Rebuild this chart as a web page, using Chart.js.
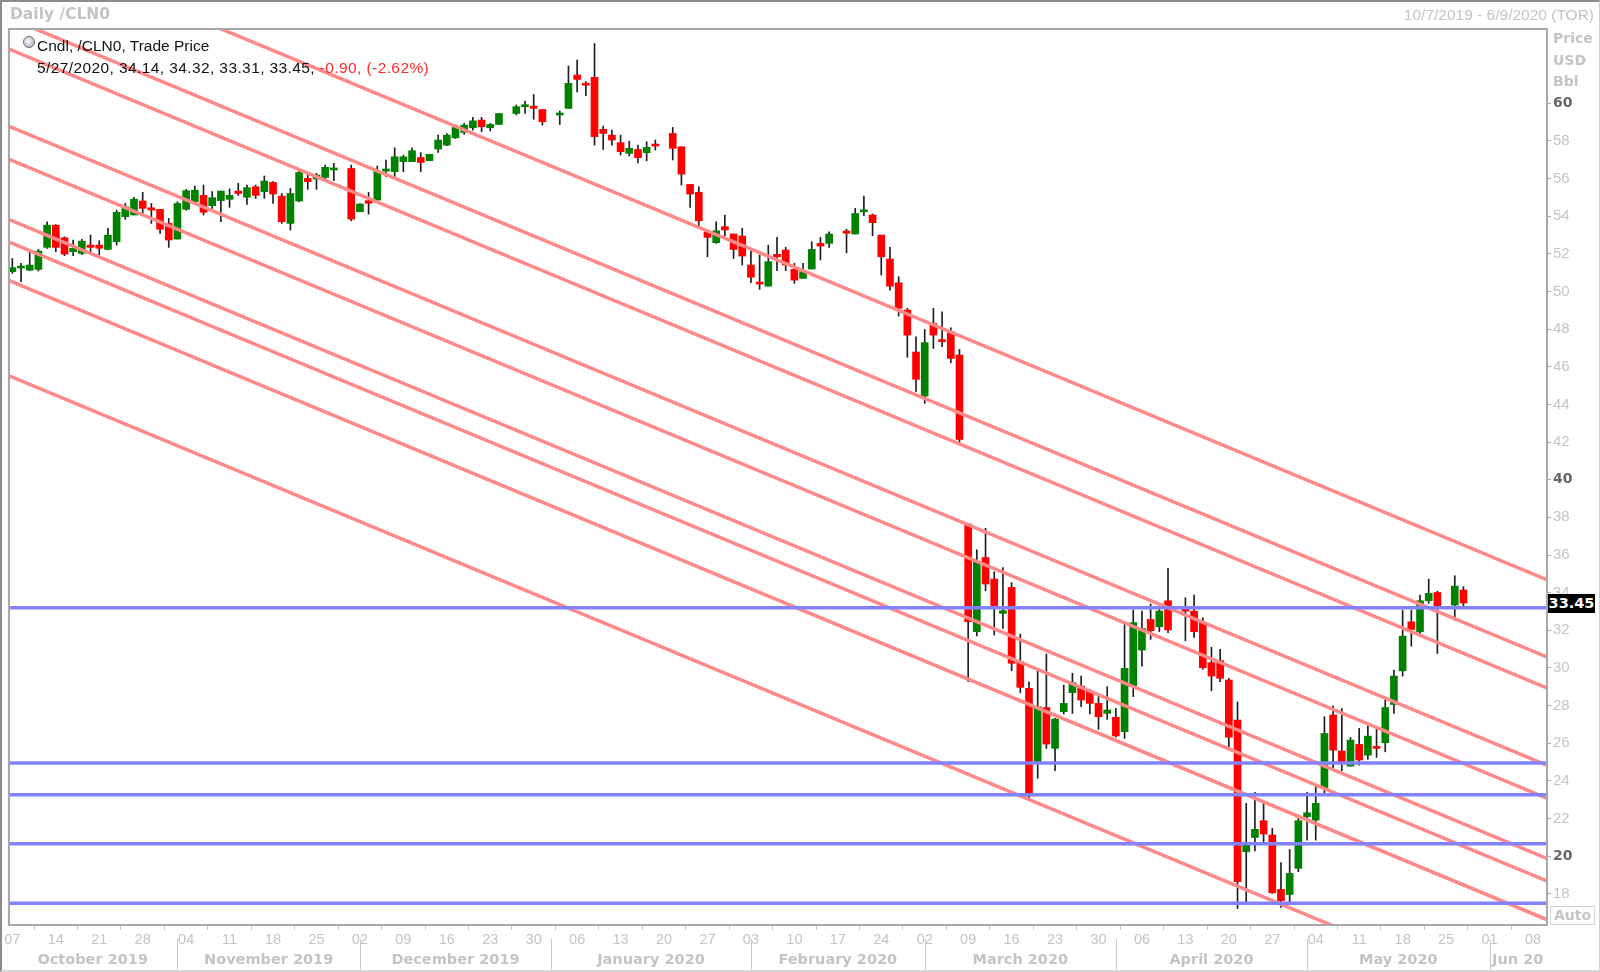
<!DOCTYPE html>
<html>
<head>
<meta charset="utf-8">
<script src="https://cdn.jsdelivr.net/npm/chart.js@4.4.1/dist/chart.umd.min.js"></script>
<style>
html,body{margin:0;padding:0;background:#fff;}
#wrap{position:relative;width:1600px;height:972px;overflow:hidden;background:#fff;}
#c{position:absolute;left:0;top:0;}
.t{position:absolute;white-space:nowrap;line-height:1;}
.lt{color:#c4c4c4;}
.b{font-family:"DejaVu Sans",sans-serif;font-weight:bold;}
.n{font-family:"Liberation Sans",Arial,sans-serif;}
#frame{position:absolute;left:8px;top:28px;width:1540px;height:898px;box-sizing:border-box;border:2px solid #a8a8a8;pointer-events:none;}
#outer{position:absolute;left:0;top:0;width:1600px;height:972px;box-sizing:border-box;border-top:2px solid #8c8c8c;border-left:2px solid #8c8c8c;border-right:1px solid #d0d0d0;border-bottom:2px solid #d8d8d8;pointer-events:none;}
.sep{position:absolute;width:1px;background:#c8c8c8;top:939px;height:31px;}
#lastbox{position:absolute;left:1548px;width:47px;height:19px;background:#000;color:#fff;font-family:"DejaVu Sans",sans-serif;font-weight:bold;font-size:14.5px;line-height:19px;text-align:center;}
#auto{position:absolute;left:1550px;top:906px;width:45px;height:19px;box-sizing:border-box;border:1px solid #d4d4d4;color:#c4c4c4;font-family:"DejaVu Sans",sans-serif;font-weight:bold;font-size:14px;line-height:17px;text-align:center;}
#clock{position:absolute;left:23px;top:36px;width:10px;height:10px;border-radius:50%;border:1px solid #6a6a7a;background:radial-gradient(circle at 40% 40%,#ffffff,#9a9aa8);}
</style>
</head>
<body>
<div id="wrap">
<canvas id="c" width="1600" height="972"></canvas>
<div class="t b lt" style="left:10px;top:7px;font-size:15.5px;">Daily /CLN0</div>
<div class="t n lt" style="right:6px;top:7px;font-size:15.5px;">10/7/2019 - 6/9/2020 (TOR)</div>
<div id="clock"></div>
<div class="t n" style="left:37px;top:38px;font-size:15.5px;color:#111;">Cndl, /CLN0, Trade Price</div>
<div class="t n" id="legend2" style="left:37px;top:60px;font-size:15.5px;color:#111;letter-spacing:0.4px;"></div>
<div class="t b lt" style="left:1553px;top:31px;font-size:14px;">Price</div>
<div class="t b lt" style="left:1553px;top:53px;font-size:14px;">USD</div>
<div class="t b lt" style="left:1553px;top:74px;font-size:14px;">Bbl</div>
<div id="frame"></div>
<div id="lastbox"></div>
<div id="auto">Auto</div>
<div id="outer"></div>
</div>
<script>
// ---- Data (weekday index from Mon 7 Oct 2019; null = no session) ----
const opens = [51.05,51.24,51.13,51.17,52.34,53.52,52.85,52.11,52.02,52.46,
52.46,52.23,52.64,53.97,54.06,54.80,54.44,54.36,53.61,52.78,
54.36,54.76,55.10,54.55,54.82,54.89,55.33,55.00,55.56,55.30,
55.79,55.06,53.61,54.80,56.00,55.97,56.05,56.45,null,56.53,
54.23,54.82,54.85,56.39,56.36,56.89,56.89,57.11,56.94,57.56,
57.77,58.16,58.44,58.69,59.10,58.69,58.87,null,59.45,59.81,
59.84,59.66,null,59.37,59.72,61.49,60.98,61.37,58.61,58.30,
57.90,57.33,57.54,57.37,57.79,null,58.39,57.68,55.68,55.26,
53.17,52.59,53.44,53.05,52.94,51.40,50.46,50.28,51.97,52.20,
51.17,50.69,51.19,52.55,52.55,null,53.21,53.05,54.23,54.06,
52.99,51.72,50.46,49.01,46.78,44.44,48.30,47.42,47.86,46.62,
37.65,31.93,35.87,34.72,32.90,34.28,30.33,28.92,25.02,27.90,
25.73,27.68,28.69,29.04,28.78,28.12,27.59,27.38,26.62,29.04,
30.95,32.58,32.19,33.57,null,33.15,33.02,32.41,30.28,30.39,
29.36,27.23,20.24,21.00,21.89,21.13,18.24,17.97,19.36,22.10,
21.92,23.60,27.50,25.59,24.79,25.94,25.37,25.82,26.03,28.06,
29.85,32.45,31.92,33.57,34.01,null,33.34,34.14];
const highs = [51.75,51.49,52.11,52.23,53.70,53.55,52.90,52.73,52.76,52.99,
52.69,53.35,54.32,54.67,55.00,55.26,54.67,54.36,53.88,54.76,
55.42,55.60,55.65,55.30,55.33,55.44,55.74,55.65,55.65,56.13,
55.83,55.20,55.47,56.45,56.27,56.27,56.71,56.80,null,56.71,
54.67,55.26,56.66,56.98,57.63,57.24,57.63,57.37,57.28,58.30,
58.39,58.83,58.92,59.24,59.24,58.92,59.45,null,59.90,60.11,
60.46,59.66,null,59.58,61.97,62.29,61.14,63.17,58.78,58.57,
58.30,57.98,57.77,57.95,58.04,null,58.71,57.68,55.68,55.56,
53.26,53.70,54.06,53.05,53.35,52.16,51.93,52.46,52.87,52.34,
51.49,51.49,52.64,52.87,53.17,null,53.30,54.41,55.06,54.11,
52.99,52.34,50.78,49.10,47.59,47.98,49.10,48.92,48.07,46.92,
37.68,36.27,37.42,35.11,35.33,34.53,31.80,29.27,29.98,30.74,
27.32,29.10,29.72,29.57,28.87,28.51,29.01,27.86,32.46,33.08,
33.02,33.40,33.29,35.29,null,33.73,33.87,32.67,31.10,30.99,
29.45,28.20,22.81,23.39,22.86,21.48,19.66,20.36,22.10,23.39,
23.78,27.41,27.99,27.85,26.31,26.79,26.92,26.74,28.30,29.89,
33.07,33.07,33.87,34.72,34.08,null,34.90,34.32];
const lows = [50.96,50.52,51.10,51.08,52.29,52.11,51.90,51.90,51.95,51.98,
51.93,52.20,52.46,53.83,54.06,54.06,53.61,53.08,52.34,52.78,
54.32,54.76,54.06,54.41,53.70,54.46,55.10,54.62,54.94,54.94,
54.67,53.61,53.26,54.76,55.42,55.42,55.90,55.88,null,53.75,
54.23,54.11,54.85,56.09,56.09,56.36,56.89,56.36,56.94,57.38,
57.74,58.12,58.34,58.57,58.48,58.52,58.87,null,59.37,59.45,
59.14,58.83,null,58.87,59.72,60.60,60.39,57.77,57.54,57.77,
57.24,57.19,56.83,56.94,57.51,null,56.98,55.65,54.46,53.47,
51.84,52.55,52.94,51.75,51.40,50.46,50.11,50.28,51.10,51.10,
50.43,50.69,51.19,51.67,52.34,null,52.05,53.05,54.02,52.96,
50.87,50.07,48.69,46.50,44.67,44.05,46.97,47.06,46.21,41.97,
29.27,31.70,34.10,31.75,32.10,29.86,28.69,22.99,24.14,25.73,
24.55,27.56,27.59,27.94,27.56,26.74,27.27,26.32,26.26,28.48,
30.10,31.52,31.93,31.87,null,31.45,31.63,29.93,28.79,29.27,
25.79,17.23,17.59,20.29,20.77,18.03,17.28,17.53,19.18,20.86,
20.86,23.37,24.67,24.54,24.79,24.84,25.14,25.25,25.55,27.59,
29.57,31.16,31.80,33.43,30.77,null,32.54,33.31];
const closes = [51.26,51.35,51.40,52.14,53.52,52.34,51.98,52.29,52.67,52.34,
52.29,52.99,54.20,54.50,54.90,54.41,54.32,53.30,52.73,54.67,
55.35,55.38,54.20,54.98,55.33,55.10,55.20,55.51,55.10,55.86,
55.17,53.70,55.20,56.32,55.83,56.18,56.59,56.50,null,53.84,
54.64,54.68,56.39,56.50,57.15,57.15,57.47,56.85,57.28,58.04,
58.30,58.71,58.83,59.06,58.75,58.87,59.45,null,59.81,59.90,
59.72,59.01,null,59.45,61.05,61.26,60.95,58.22,58.39,58.04,
57.42,57.60,57.10,57.65,57.72,null,57.60,56.23,55.17,53.75,
52.87,53.22,53.26,52.23,51.88,50.75,50.39,51.58,51.84,51.40,
50.60,51.05,52.23,52.41,53.05,null,53.09,54.14,54.32,53.65,
51.84,50.28,49.10,47.68,45.33,47.28,47.68,47.33,46.44,42.14,
32.46,35.65,34.46,33.26,33.04,30.25,28.97,23.34,27.94,25.96,
27.29,28.12,29.22,28.30,28.12,27.41,27.77,26.39,29.98,32.41,
32.10,31.98,33.02,32.02,null,33.02,31.93,30.02,29.57,29.45,
26.32,18.65,20.60,21.43,21.18,18.06,17.64,19.09,21.89,22.31,
22.81,26.52,25.64,25.02,26.17,25.11,26.38,25.73,27.90,29.57,
31.69,32.05,33.57,33.96,33.29,null,34.35,33.45];

// Trend lines (price at weekday index -1 and 177)
const trendX = [-1, 177];
const trendLeft  = [68.74, 64.64, 62.99, 58.89, 57.14, 53.94, 52.74, 50.69, 45.64];
const trendRight = [34.61, 30.51, 28.86, 24.76, 23.01, 19.81, 18.61, 16.56, 11.51];
// Horizontal support / resistance levels
const levels = [33.20, 24.95, 23.27, 20.67, 17.50];
// Y ticks
const yTicks = [18,20,22,24,26,28,30,32,34,36,38,40,42,44,46,48,50,52,54,56,58,60];
const monthNames = ["October 2019","November 2019","December 2019","January 2020","February 2020","March 2020","April 2020","May 2020","Jun 20"];
const legendDate = "5/27/2020";
const legendChange = -0.90;
const legendPct = -2.62;

// ---- Categories: weekdays from 7 Oct 2019 to 9 Jun 2020 ----
const categories = [];
for (let t = Date.UTC(2019, 9, 7); categories.length < 177; t += 86400000) {
  const d = new Date(t); const wd = d.getUTCDay();
  if (wd !== 0 && wd !== 6) categories.push(d);
}
const mondayIdx = [];
categories.forEach((d, i) => { if (d.getUTCDay() === 1) mondayIdx.push(i); });
const monthStart = [];
categories.forEach((d, i) => { if (i > 0 && d.getUTCMonth() !== categories[i-1].getUTCMonth()) monthStart.push(i); });

const bodies = [], wicks = [], bodyColors = [];
for (let i = 0; i < opens.length; i++) {
  if (opens[i] == null) continue;
  bodies.push({x: i, y: [opens[i], closes[i]]});
  wicks.push({x: i, y: [lows[i], highs[i]]});
  bodyColors.push(closes[i] >= opens[i] ? '#008200' : '#ff0000');
}

const datasets = [
  {type:'bar', data: wicks, backgroundColor:'#1e1e1e', barThickness:1, grouped:false, order:3, borderWidth:0},
  {type:'bar', data: bodies, backgroundColor: bodyColors, barThickness:7, grouped:false, order:2, borderWidth:0, minBarLength:2}
];
trendLeft.forEach((v, k) => {
  datasets.push({type:'line', data:[{x:trendX[0], y:v},{x:trendX[1], y:trendRight[k]}],
    borderColor:'#ff8888', borderWidth:3.5, pointRadius:0, order:1, tension:0});
});
levels.forEach(v => {
  datasets.push({type:'line', data:[{x:trendX[0], y:v},{x:trendX[1], y:v}],
    borderColor:'#8282ff', borderWidth:3.5, pointRadius:0, order:0, tension:0});
});

const chart = new Chart(document.getElementById('c'), {
  type:'bar',
  data:{datasets},
  options:{
    responsive:false, animation:false, devicePixelRatio:1,
    layout:{padding:{left:8, top:28, right:0, bottom:0}},
    plugins:{legend:{display:false}, tooltip:{enabled:false}},
    scales:{
      x:{type:'linear', min:-0.5, max:176.5, offset:false,
        afterBuildTicks: s => { s.ticks = mondayIdx.map(v => ({value:v})); },
        afterFit: s => { s.height = 47; },
        ticks:{autoSkip:false, maxRotation:0, color:'#c4c4c4', padding:1,
          font:{family:'Liberation Sans', size:14.5},
          callback: v => String(categories[v].getUTCDate()).padStart(2,'0')},
        grid:{drawOnChartArea:false, tickLength:5, color:'#c8c8c8'},
        border:{display:false}
      },
      y:{type:'linear', position:'right', min:16.35, max:63.99,
        afterBuildTicks: s => { s.ticks = yTicks.map(v => ({value:v})); },
        afterFit: s => { s.width = 54; },
        ticks:{padding:2,
          color: ctx => (ctx.tick && ctx.tick.value % 20 === 0) ? '#666666' : '#c4c4c4',
          font: ctx => (ctx.tick && ctx.tick.value % 20 === 0)
            ? {family:'DejaVu Sans', size:14, weight:'bold'}
            : {family:'Liberation Sans', size:15, weight:'normal'},
          callback: v => String(v)},
        grid:{drawOnChartArea:false, tickLength:5, color:'#a8a8a8'},
        border:{display:false}
      }
    }
  }
});

// ---- Overlay texts positioned from the chart's scales ----
const wrap = document.getElementById('wrap');
const xs = chart.scales.x, ys = chart.scales.y, area = chart.chartArea;
const bounds = [area.left];
monthStart.forEach(i => {
  const px = xs.getPixelForValue(i);
  bounds.push(px);
  const s = document.createElement('div'); s.className = 'sep'; s.style.left = Math.round(px) + 'px'; wrap.appendChild(s);
});
bounds.push(area.right);
monthNames.forEach((name, k) => {
  const c = (bounds[k] + bounds[k+1]) / 2;
  const el = document.createElement('div');
  el.className = 't b lt'; el.style.fontSize = '14.5px'; el.textContent = name;
  el.style.top = '952px'; el.style.left = c + 'px'; el.style.transform = 'translateX(-50%)';
  wrap.appendChild(el);
});
const lastIdx = closes.length - 1;
const lb = document.getElementById('lastbox');
lb.textContent = closes[lastIdx].toFixed(2);
lb.style.top = (ys.getPixelForValue(closes[lastIdx]) - 9.5) + 'px';
document.getElementById('legend2').innerHTML =
  legendDate + ', ' + opens[lastIdx].toFixed(2) + ', ' + highs[lastIdx].toFixed(2) + ', ' + lows[lastIdx].toFixed(2) + ', ' + closes[lastIdx].toFixed(2) + ', ' +
  '<span style="color:#ff2a2a">' + legendChange.toFixed(2) + ', (' + legendPct.toFixed(2) + '%)</span>';
</script>
</body>
</html>
